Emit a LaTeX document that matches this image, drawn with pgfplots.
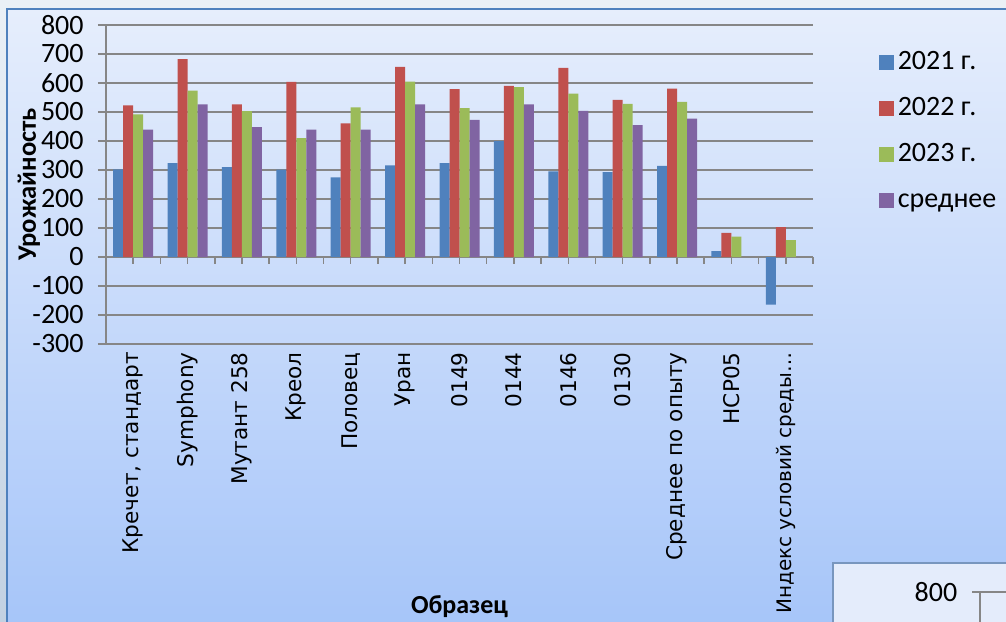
\documentclass[border=0pt]{standalone}
\usepackage{pgfplots}
\pgfplotsset{compat=1.18}
\usepackage{fontspec}
\setmainfont{Carlito}
\newfontfamily\dejavu{DejaVu Sans}
\definecolor{s1}{HTML}{4F81BD}
\definecolor{s2}{HTML}{C0504D}
\definecolor{s3}{HTML}{9BBB59}
\definecolor{s4}{HTML}{8064A2}
\definecolor{gridc}{HTML}{868686}
\begin{document}
\begin{tikzpicture}
\useasboundingbox (0,0) rectangle (503pt,-310.5pt);
% outer background
\shade[top color={rgb,255:red,234;green,240;blue,246}, bottom color={rgb,255:red,194;green,209;blue,226}] (0,0) rectangle (503pt,-310.5pt);
% chart area
\shade[top color={rgb,255:red,230;green,238;blue,252}, bottom color={rgb,255:red,166;green,197;blue,249}] (3.5pt,-4.5pt) rectangle (506pt,-314pt);
\draw[line width=1pt, color={rgb,255:red,79;green,129;blue,189}] (3.5pt,-316pt) -- (3.5pt,-4.5pt) -- (506pt,-4.5pt);
% partial second chart box bottom right
\fill[color={rgb,255:red,228;green,236;blue,251}] (416.5pt,-281.5pt) rectangle (506pt,-314pt);
\draw[line width=0.8pt, color={rgb,255:red,120;green,150;blue,190}] (416.5pt,-314pt) -- (416.5pt,-281.5pt) -- (506pt,-281.5pt);
\node[font=\fontsize{14pt}{16pt}\selectfont, inner sep=0pt] at (468pt,-296pt) {800};
\draw[gridc, line width=0.75pt] (486pt,-296pt) -- (506pt,-296pt);
\draw[gridc, line width=0.75pt] (490pt,-296pt) -- (490pt,-314pt);
\begin{axis}[
  at={(53pt,-172pt)}, anchor=south west,
  scale only axis, width=353.5pt, height=159.5pt,
  xmin=-0.5, xmax=12.5, ymin=-300, ymax=800,
  ybar=0pt, bar width=5pt,
  axis lines*=left,
  x axis line style={draw=none},
  y axis line style={gridc, line width=0.75pt},
  ytick={-300,-200,...,800},
  yticklabels={-300,-200,-100,0,100,200,300,400,500,600,700,800},
  yticklabel style={font=\fontsize{14pt}{16pt}\selectfont, inner sep=0pt, xshift=-7pt},
  ymajorgrids,
  grid style={gridc, line width=0.75pt},
  ytick style={gridc, line width=0.75pt},
  tick align=outside,
  major tick length=4pt,
  xtick={0,1,...,11},
  xtick style={draw=none},
  xticklabels={{Кречет, стандарт\hspace{12.5pt}},{Symphony\hspace{12.5pt}},{Мутант 258\hspace{12.5pt}},{Креол\hspace{12.5pt}},{Половец\hspace{12.5pt}},{Уран\hspace{12.5pt}},{0149\hspace{12.5pt}},{0144\hspace{12.5pt}},{0146\hspace{12.5pt}},{0130\hspace{12.5pt}},{Среднее по опыту\hspace{12.5pt}},{НСР05\hspace{12.5pt}}},
  extra x ticks={12},
  extra x tick labels={{\fontsize{10pt}{12pt}\selectfont Индекс условий среды…}},
  extra x tick style={xtick style={draw=none}},
  xticklabel style={rotate=90, anchor=east, inner sep=0pt, font=\dejavu\fontsize{10.8pt}{12pt}\selectfont},
  xticklabel shift=0pt,
  ylabel={Урожайность},
  ylabel style={font=\bfseries\fontsize{13.3pt}{15pt}\selectfont, at={(axis description cs:-0.109,0.5)}, anchor=center},
  xlabel={Образец},
  xlabel style={font=\bfseries\fontsize{13pt}{15pt}\selectfont, at={(axis description cs:0.5,-0.824)}, anchor=center},
  legend image code/.code={\fill[#1] (0pt,-3.75pt) rectangle (7.5pt,3.75pt);},
  legend style={at={(axis description cs:1.093,0.93)}, anchor=north west, draw=none, fill=none, inner sep=0pt, row sep=8.4pt,
    nodes={inner sep=1.8pt, text height=9pt, text depth=2pt, font=\fontsize{14pt}{16pt}\selectfont}},
  legend cell align=left,
  clip=false,
]
\addplot[fill=s1, draw=none] coordinates {(0,302) (1,324) (2,310) (3,301) (4,275) (5,316) (6,324) (7,400) (8,295) (9,293) (10,314) (11,20) (12,-164)};
\addplot[fill=s2, draw=none] coordinates {(0,523) (1,682) (2,526) (3,604) (4,461) (5,656) (6,579) (7,590) (8,652) (9,542) (10,581) (11,83) (12,103)};
\addplot[fill=s3, draw=none] coordinates {(0,492) (1,574) (2,503) (3,410) (4,516) (5,605) (6,513) (7,586) (8,563) (9,528) (10,535) (11,70) (12,58)};
\addplot[fill=s4, draw=none] coordinates {(0,439) (1,526) (2,448) (3,439) (4,439) (5,526) (6,473) (7,526) (8,504) (9,455) (10,477)};
\legend{2021 г.,2022 г.,2023 г.,среднее}
\pgfplotsinvokeforeach{-0.5,0,0.5,1,1.5,2,2.5,3,3.5,4,4.5,5,5.5,6,6.5,7,7.5,8,8.5,9,9.5,10,10.5,11,11.5,12,12.5}{
  \draw[gridc, line width=0.75pt] (axis cs:#1,0) -- ([yshift=-3.5pt]axis cs:#1,0);
}
\end{axis}
\end{tikzpicture}
\end{document}
